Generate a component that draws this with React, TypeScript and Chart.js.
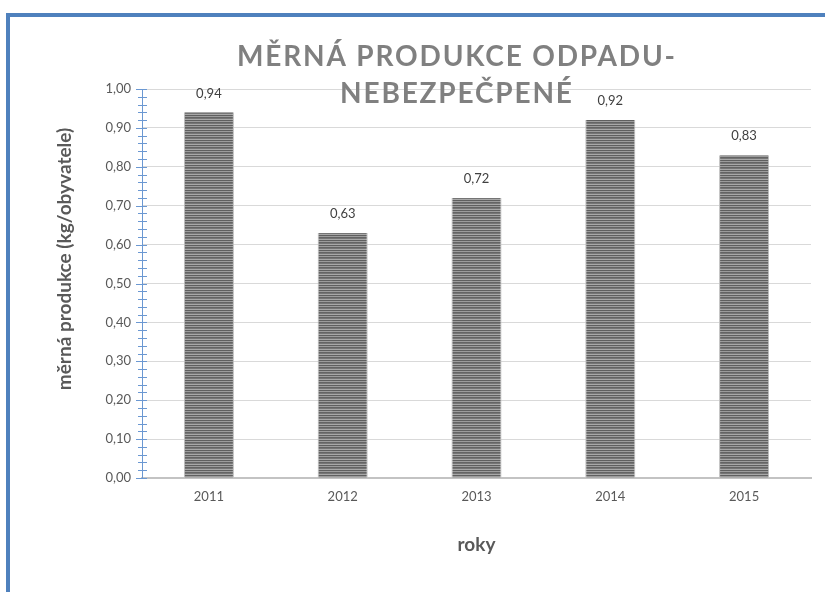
import React, { useEffect, useRef } from 'react';
import { Chart, registerables } from 'chart.js';

Chart.register(...registerables);

const years = ['2011', '2012', '2013', '2014', '2015'];
const values = [0.94, 0.63, 0.72, 0.92, 0.83];
const titleLines = ['MĚRNÁ PRODUKCE ODPADU-', 'NEBEZPEČPENÉ'];
const yTitle = 'měrná produkce (kg/obyvatele)';
const xTitle = 'roky';
const yMin = 0;
const yMax = 1;
const yStep = 0.1;
const yMinorStep = 0.02;

const fmt = (v: number) => v.toFixed(2).replace('.', ',');

const FONT = 'Lato, "Open Sans", sans-serif';
const AXIS_BLUE = '#6b98d2';

export default function App() {
  const canvasRef = useRef<HTMLCanvasElement | null>(null);

  useEffect(() => {
    const canvas = canvasRef.current!;
    const ctx0 = canvas.getContext('2d')!;
    const pc = document.createElement('canvas');
    pc.width = 1;
    pc.height = 5;
    const pctx = pc.getContext('2d')!;
    const rows = ['#5f5f5f', '#9c9c9c', '#646464', '#757575', '#a8a8a8'];
    rows.forEach((c, i) => {
      pctx.fillStyle = c;
      pctx.fillRect(0, i, 1, 1);
    });
    const pattern = ctx0.createPattern(pc, 'repeat')!;

    const decor = {
      id: 'decor',
      beforeDraw(chart: any) {
        const { ctx } = chart;
        ctx.save();
        ctx.fillStyle = '#ffffff';
        ctx.fillRect(0, 0, chart.width, chart.height);
        ctx.fillStyle = '#4f81bd';
        ctx.fillRect(6, 13, chart.width - 6, 4);
        ctx.fillRect(6, 13, 4, chart.height - 13);
        ctx.restore();
      },
      afterDraw(chart: any) {
        const { ctx } = chart;
        const ys = chart.scales.y;
        const axisX = chart.chartArea.left;
        ctx.save();
        // y axis tick marks (major + minor)
        ctx.strokeStyle = AXIS_BLUE;
        ctx.lineWidth = 1;
        const n = Math.round((yMax - yMin) / yMinorStep);
        for (let i = 0; i <= n; i++) {
          const v = yMin + i * yMinorStep;
          const py = Math.round(ys.getPixelForValue(v)) + 0.5;
          const major = i % 5 === 0;
          ctx.beginPath();
          ctx.moveTo(axisX - (major ? 6 : 4), py);
          ctx.lineTo(axisX + 5, py);
          ctx.stroke();
        }
        // data labels
        const meta = chart.getDatasetMeta(0);
        ctx.fillStyle = '#404040';
        ctx.font = `13px ${FONT}`;
        ctx.textAlign = 'center';
        ctx.textBaseline = 'middle';
        meta.data.forEach((bar: any, i: number) => {
          ctx.fillText(fmt(values[i]), bar.x, bar.y - 19);
        });
        // y title
        ctx.save();
        ctx.translate(65, 259);
        ctx.rotate(-Math.PI / 2);
        ctx.font = `bold 19px ${FONT}`;
        ctx.fillStyle = '#595959';
        ctx.fillText(yTitle, 0, 0);
        ctx.restore();
        // main title
        ctx.font = `bold 28px ${FONT}`;
        ctx.fillStyle = '#808080';
        ctx.textAlign = 'left';
        ctx.textBaseline = 'alphabetic';
        (ctx as any).letterSpacing = '0px';
        const w0 = ctx.measureText(titleLines[0]).width;
        const sp = (438 - w0) / (titleLines[0].length - 1);
        const baselines = [66, 103];
        const cx = 456;
        titleLines.forEach((t, i) => {
          (ctx as any).letterSpacing = '0px';
          const w = ctx.measureText(t).width + sp * (t.length - 1);
          (ctx as any).letterSpacing = `${sp}px`;
          ctx.fillText(t, cx - w / 2, baselines[i]);
        });
        ctx.restore();
      },
    };

    const chart = new Chart(canvas, {
      type: 'bar',
      data: {
        labels: years,
        datasets: [
          {
            data: values,
            backgroundColor: pattern as any,
            borderColor: '#bdbdbd',
            borderWidth: { left: 1, right: 1, top: 0, bottom: 0 } as any,
            categoryPercentage: 1,
            barPercentage: 0.374,
          },
        ],
      },
      options: {
        responsive: false,
        animation: false,
        layout: { padding: { left: 0, top: 89, right: 14, bottom: 0 } },
        plugins: {
          legend: { display: false },
          tooltip: { enabled: false },
          title: { display: false },
        },
        scales: {
          x: {
            grid: { display: false, drawTicks: false },
            border: { color: '#c3c3c3', width: 2 },
            ticks: {
              color: '#595959',
              font: { family: FONT, size: 13 },
              padding: 11,
            },
            title: {
              display: true,
              text: xTitle,
              color: '#595959',
              font: { family: FONT, size: 19, weight: 'bold' },
              padding: { top: 0, bottom: 36 },
            },
            afterFit: (s: any) => {
              s.height = 114;
            },
          },
          y: {
            min: yMin,
            max: yMax,
            ticks: {
              stepSize: yStep,
              color: '#595959',
              font: { family: FONT, size: 13 },
              padding: 11,
              callback: (v: any) => fmt(Number(v)),
            },
            grid: { color: '#d9d9d9', lineWidth: 1, drawTicks: false },
            border: { color: AXIS_BLUE, width: 1 },
            afterFit: (s: any) => {
              s.width = 142;
            },
          },
        },
      },
      plugins: [decor],
    });
    return () => chart.destroy();
  }, []);

  return (
    <div style={{ position: 'fixed', left: 0, top: 0, width: 825, height: 592, background: '#fff' }}>
      <canvas ref={canvasRef} width={825} height={592} style={{ display: 'block', width: 825, height: 592 }} />
    </div>
  );
}
